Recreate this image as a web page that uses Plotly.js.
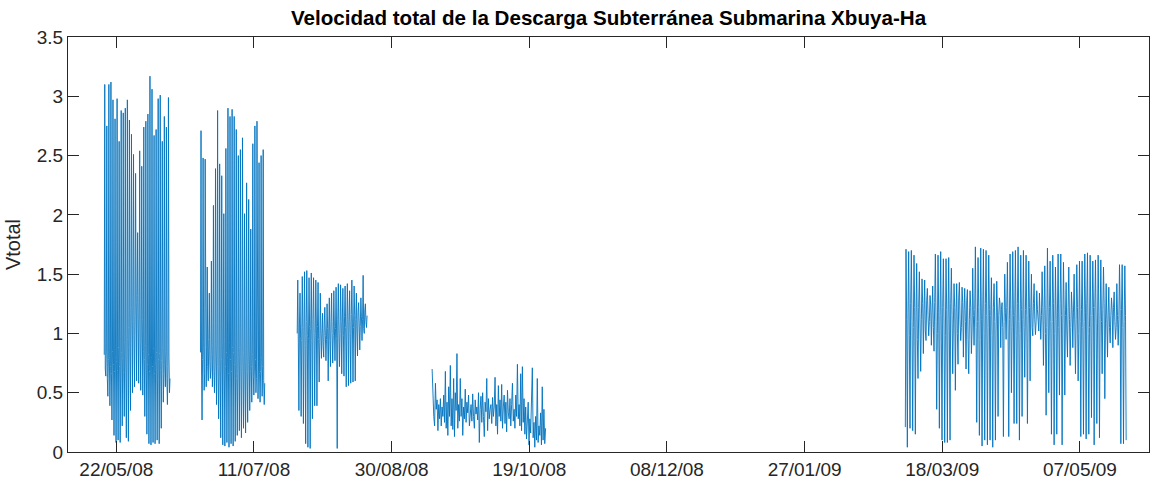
<!DOCTYPE html>
<html><head><meta charset="utf-8">
<script src="https://cdn.plot.ly/plotly-3.0.1.min.js"></script>
<style>html,body{margin:0;padding:0;background:#fff}</style>
</head><body><div id="chart" style="width:1156px;height:483px"></div>
<script>
// ---- tick positions / labels ----
const xTickDates = ['2008-05-22','2008-07-11','2008-08-30','2008-10-19','2008-12-08','2009-01-27','2009-03-18','2009-05-07'];
const xTickLabels = ['22/05/08','11/07/08','30/08/08','19/10/08','08/12/08','27/01/09','18/03/09','07/05/09'];
const yTickVals = [0,0.5,1,1.5,2,2.5,3,3.5];
const yTickLabels = ['0','0.5','1','1.5','2','2.5','3','3.5'];

// ---- measurement campaigns (start, end) ----
const seg1Span = ['2008-05-17 15:00','2008-06-10 12:00'];
const seg2Span = ['2008-06-21 14:00','2008-07-14 22:00'];
const seg3Span = ['2008-07-26 17:00','2008-08-21 02:00'];
const seg4Span = ['2008-09-13 17:00','2008-10-24 22:00'];
const seg5Span = ['2009-03-04 14:00','2009-05-23 19:00'];

// ---- Vtotal readings (equally spaced within each campaign) ----
const seg1Values = [
0.82,3.10,0.70,0.64, 0.86,2.75,0.62,0.47, 0.78,3.10,0.80,0.39, 0.72,3.12,0.66,0.27,
0.85,2.97,0.74,0.14, 0.68,2.81,0.80,0.08, 0.76,2.98,0.69,0.10, 0.88,2.62,0.72,0.08,
0.70,2.88,0.84,0.22, 0.79,2.86,0.67,0.30, 0.92,2.90,0.75,0.12, 0.81,2.97,0.95,0.09,
1.05,2.80,0.88,0.35, 1.22,2.68,1.10,0.50, 1.30,2.51,0.98,0.55, 1.15,2.35,1.26,0.60,
1.32,1.85,1.08,0.58, 1.18,2.54,0.92,0.52, 0.96,2.41,1.12,0.48, 0.85,2.74,0.78,0.30,
0.90,2.79,0.70,0.15, 0.74,2.85,0.82,0.07, 0.68,3.17,0.86,0.06, 0.80,3.06,0.72,0.08,
0.87,2.67,0.66,0.07, 0.75,2.72,0.84,0.10, 0.70,2.98,0.78,0.07, 0.83,3.01,0.69,0.20,
0.77,2.62,0.88,0.42, 0.66,2.83,0.74,0.55, 0.85,2.74,0.62,0.40, 0.72,2.99,0.80,0.50, 0.62];
const seg2Values = [
0.84,2.71,0.70,0.27, 0.78,2.48,0.92,0.52, 0.66,2.47,0.80,0.55, 0.88,1.56,0.72,0.60,
0.95,1.34,0.76,0.62, 0.70,1.61,0.90,0.55, 0.82,2.08,0.68,0.50, 0.74,2.39,0.86,0.40,
0.90,2.88,0.72,0.28, 0.64,2.43,0.80,0.12, 0.78,2.33,0.92,0.06, 0.86,2.01,0.70,0.05,
0.72,2.56,0.84,0.08, 0.80,2.90,0.66,0.04, 0.92,2.83,0.78,0.07, 0.68,2.89,0.88,0.05,
0.84,2.83,0.74,0.09, 0.76,2.72,0.62,0.14, 0.66,2.50,0.80,0.18, 0.88,2.55,0.70,0.12,
0.72,2.65,0.84,0.20, 0.64,2.01,0.76,0.16, 0.80,2.27,0.68,0.25, 0.74,2.13,0.86,0.35,
0.68,1.88,0.72,0.42, 0.82,2.60,0.64,0.48, 0.70,2.75,0.78,0.50, 0.62,2.79,0.74,0.45,
0.76,2.44,0.66,0.42, 0.68,2.50,0.80,0.47, 0.72,2.55,0.60,0.40, 0.58];
const seg3Values = [
1.00,1.45,0.92,0.35, 1.08,1.34,0.96,0.30, 0.94,1.48,1.05,0.24, 1.02,1.52,0.90,0.07,
1.10,1.53,0.98,0.04, 0.96,1.47,1.06,0.03, 1.04,1.51,0.94,0.28, 1.12,1.47,1.00,0.39,
0.98,1.45,1.08,0.39, 1.06,1.43,0.95,0.59, 0.92,1.34,1.02,0.79, 1.00,1.17,0.90,0.80,
1.08,1.22,0.98,0.77, 0.95,1.25,1.04,0.60, 1.02,1.30,0.94,0.72, 1.10,1.34,1.00,0.75,
0.98,1.36,1.06,0.77, 1.04,1.39,0.96,0.03, 1.12,1.42,1.02,0.72, 1.00,1.41,1.10,0.66,
1.08,1.38,0.98,0.64, 1.14,1.40,1.05,0.55, 1.02,1.42,1.12,0.56, 1.10,1.36,1.00,0.58,
1.16,1.45,1.08,0.59, 1.05,1.40,1.15,0.60, 1.12,1.34,1.02,0.81, 1.18,1.26,1.08,0.86,
1.06,1.30,1.14,0.94, 1.12,1.49,1.04,1.00, 1.20,1.25,1.10,1.05, 1.15];
const seg4Values = [
0.70,0.42,0.30,0.22,0.58,0.36,0.44,0.18,0.40,0.28,0.45,0.22,0.38,0.30,0.48,0.25,
0.68,0.20,0.42,0.14,0.55,0.30,0.73,0.22,0.45,0.19,0.62,0.13,0.50,0.35,0.83,0.20,0.40,0.26,0.62,0.30,
0.45,0.14,0.38,0.28,0.53,0.25,0.42,0.33,0.48,0.22,0.36,0.40,0.26,0.49,0.30,0.20,0.44,0.32,0.38,0.27,
0.50,0.08,0.36,0.47,0.25,0.50,0.30,0.13,0.42,0.34,0.62,0.18,0.45,0.28,0.36,0.40,0.24,0.46,0.30,0.38,
0.63,0.22,0.40,0.15,0.56,0.30,0.44,0.26,0.57,0.20,0.38,0.48,0.24,0.42,0.17,0.52,0.33,0.28,0.45,0.22,
0.40,0.58,0.26,0.36,0.20,0.48,0.30,0.74,0.28,0.40,0.22,0.66,0.18,0.72,0.25,0.45,0.15,0.38,0.11,0.30,
0.42,0.06,0.28,0.16,0.35,0.71,0.12,0.25,0.04,0.30,0.10,0.62,0.08,0.22,0.14,0.33,0.06,0.55,0.10,0.36,0.07,0.20];
const seg5Values = [
0.21,1.71,1.12,0.04, 1.18,1.69,0.98,0.20, 1.25,1.70,1.10,0.18, 1.05,1.66,1.22,0.15,
1.15,1.59,0.95,0.62, 1.22,1.52,1.08,0.68, 1.12,1.46,1.25,0.83, 1.20,1.45,1.02,0.94,
1.28,1.38,1.15,0.98, 1.10,1.32,1.24,0.90, 1.18,1.40,1.05,0.85, 1.26,1.67,1.10,0.36,
1.00,1.66,1.18,0.20, 1.15,1.69,0.92,0.10, 1.22,1.63,1.08,0.08, 0.98,1.63,1.20,0.08,
1.12,1.64,1.02,0.10, 1.25,1.55,1.15,0.66, 1.08,1.42,1.22,0.52, 1.18,1.42,1.00,0.74,
1.30,1.43,1.12,0.94, 1.05,1.39,1.26,0.80, 1.20,1.38,1.10,0.70, 1.28,1.37,0.95,0.66,
1.12,1.36,1.22,0.83, 1.02,1.55,1.15,0.90, 1.20,1.73,1.05,0.25, 1.10,1.64,1.22,0.14,
0.95,1.72,1.12,0.05, 1.18,1.71,1.00,0.10, 1.25,1.70,1.15,0.06, 1.05,1.66,1.20,0.10,
1.15,1.47,0.98,0.04, 1.22,1.42,1.10,0.10, 1.02,1.44,1.18,0.30, 1.15,1.30,1.25,0.88,
1.20,1.26,1.05,0.13, 1.10,1.50,1.18,0.95, 1.22,1.60,1.02,0.13, 1.12,1.67,1.20,0.50,
1.05,1.69,1.15,0.24, 1.18,1.70,0.98,0.24, 1.25,1.73,1.10,0.10, 1.00,1.66,1.20,0.30,
1.12,1.70,1.05,0.63, 1.20,1.66,1.15,0.24, 1.08,1.61,1.22,0.60, 1.18,1.50,1.05,0.98,
1.25,1.42,1.12,0.99, 1.10,1.36,1.20,1.02, 1.02,1.34,1.15,0.95, 1.15,1.52,1.22,0.73,
1.20,1.57,1.00,0.31, 1.05,1.72,1.18,0.50, 1.22,1.61,1.10,0.15, 1.10,1.66,1.25,0.06,
1.00,1.56,1.12,0.15, 1.18,1.67,1.05,0.48, 1.25,1.67,1.15,0.06, 1.08,1.60,1.20,0.48,
1.15,1.43,1.02,0.80, 1.22,1.56,1.12,0.73, 1.05,1.35,1.20,0.88, 1.18,1.50,1.08,0.66,
1.12,1.58,1.22,0.60, 1.00,1.61,1.10,0.13, 1.20,1.61,1.05,0.15, 1.10,1.67,1.18,0.11,
1.25,1.68,1.00,0.15, 1.05,1.66,1.15,0.29, 1.15,1.61,1.22,0.06, 1.22,1.62,1.08,0.24,
1.02,1.66,1.18,0.12, 1.12,1.62,1.10,0.66, 1.20,1.56,1.25,0.45, 1.08,1.42,1.12,0.80,
1.18,1.39,1.05,0.92, 1.15,1.30,1.20,0.88, 1.22,1.35,1.10,0.95, 1.05,1.42,1.15,0.90,
1.12,1.58,1.20,0.07, 1.20,1.58,1.05,0.07, 1.10,1.57,1.15,0.10];

const FONT = 'Liberation Sans, Arial, Helvetica, sans-serif';
const LINE_COLOR = '#0072BD';
const AXIS_COLOR = '#262626';

function toMs(s){
  const parts = s.split(' ');
  const d = parts[0].split('-').map(Number);
  const t = (parts[1] || '00:00').split(':').map(Number);
  return Date.UTC(d[0], d[1]-1, d[2], t[0], t[1]);
}
function campaign(span, vals){
  const a = toMs(span[0]), b = toMs(span[1]);
  const step = (b - a) / (vals.length - 1);
  return {
    x: vals.map((v,i) => a + i*step), y: vals,
    type:'scatter', mode:'lines',
    line:{color:LINE_COLOR, width:0.9},
    showlegend:false, hoverinfo:'skip'
  };
}

const data = [
  campaign(seg1Span, seg1Values),
  campaign(seg2Span, seg2Values),
  campaign(seg3Span, seg3Values),
  campaign(seg4Span, seg4Values),
  campaign(seg5Span, seg5Values)
];

const layout = {
  width:1156, height:483,
  margin:{l:68, r:7, t:37, b:31},
  paper_bgcolor:'#ffffff', plot_bgcolor:'#ffffff',
  title:{text:'<b>Velocidad total de la Descarga Subterránea Submarina Xbuya-Ha</b>',
    font:{family:FONT, size:20.6, color:'#000000'},
    x:0.5, xref:'paper', xanchor:'center', y:1-18/483, yref:'container', yanchor:'middle'},
  xaxis:{
    type:'date', range:['2008-05-04 11:00','2009-06-01 02:00'],
    tickmode:'array', tickvals:xTickDates, ticktext:xTickLabels,
    ticks:'inside', ticklen:11, tickwidth:1, tickcolor:AXIS_COLOR,
    showline:true, linecolor:AXIS_COLOR, linewidth:1, mirror:'ticks',
    showgrid:false, zeroline:false,
    tickfont:{family:FONT, size:19, color:AXIS_COLOR}
  },
  yaxis:{
    range:[0,3.5], tickmode:'array', tickvals:yTickVals, ticktext:yTickLabels,
    ticks:'inside', ticklen:11, tickwidth:1, tickcolor:AXIS_COLOR,
    showline:true, linecolor:AXIS_COLOR, linewidth:1, mirror:'ticks',
    showgrid:false, zeroline:false,
    tickfont:{family:FONT, size:19, color:AXIS_COLOR},
    title:{text:'Vtotal', font:{family:FONT, size:20, color:AXIS_COLOR}, standoff:10}
  }
};

Plotly.newPlot('chart', data, layout, {displayModeBar:false, staticPlot:true});
</script>
</body></html>
